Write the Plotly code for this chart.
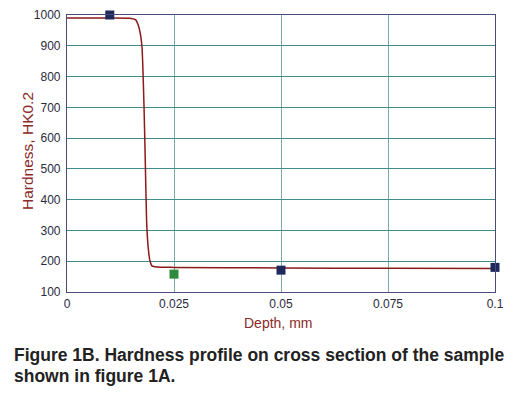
import plotly.graph_objects as go

# Curve
depth_curve = [0, 0.010, 0.0150, 0.0160, 0.0168, 0.0175, 0.0180, 0.0183, 0.0186,
               0.0190, 0.0194, 0.0199, 0.0210, 0.025, 0.050, 0.075, 0.100]
hard_curve = [990, 990, 989, 985, 960, 900, 700, 520, 330,
              240, 200, 184, 181, 180, 178, 177, 176]

# Measured points
blue_depth = [0.010, 0.050, 0.100]
blue_hard = [1000, 171, 180]
green_depth = [0.025]
green_hard = [158]

x_ticks = [0, 0.025, 0.05, 0.075, 0.1]
x_ticktext = ["0", "0.025", "0.05", "0.075", "0.1"]
y_ticks = [100, 200, 300, 400, 500, 600, 700, 800, 900, 1000]

caption_lines = ["Figure 1B. Hardness profile on cross section of the sample",
                 "shown in figure 1A."]

fig = go.Figure()
fig.add_trace(go.Scatter(x=depth_curve, y=hard_curve, mode="lines",
                         line=dict(color="#8B1A1A", width=1.5, shape="spline", smoothing=0.5),
                         hoverinfo="skip", cliponaxis=False))
fig.add_trace(go.Scatter(x=green_depth, y=green_hard, mode="markers",
                         marker=dict(symbol="square", size=9, color="#2E8B3E"),
                         cliponaxis=False))
fig.add_trace(go.Scatter(x=blue_depth, y=blue_hard, mode="markers",
                         marker=dict(symbol="square", size=9, color="#1F2A5C"),
                         cliponaxis=False))

# plot area: page y 15..292 (figure offset 8px by page margin)
plot_h = 292 - 15


def py(page_y):
    return (292 - page_y) / plot_h


annotations = [
    dict(text="Hardness, HK0.2", xref="paper", yref="paper", x=-0.0935, y=py(151),
         textangle=-90, showarrow=False, font=dict(size=15.5, color="#8B2A2A"),
         xanchor="center", yanchor="middle"),
    dict(text="Depth, mm", xref="paper", yref="paper", x=0.493, y=py(323),
         showarrow=False, font=dict(size=14, color="#8B2A2A"),
         xanchor="center", yanchor="middle"),
]
for i, line in enumerate(caption_lines):
    annotations.append(dict(text="<b>" + line + "</b>", xref="paper", yref="paper",
                            x=-0.129, y=py(355 + 21 * i), align="left",
                            showarrow=False, font=dict(size=17.5, color="#222222"),
                            xanchor="left", yanchor="middle"))

fig.update_layout(
    width=504, height=389,
    margin=dict(l=59, r=17, t=7, b=105),
    paper_bgcolor="white", plot_bgcolor="white",
    showlegend=False,
    font=dict(family="Liberation Sans, Arial, sans-serif", color="#2A2A40"),
    xaxis=dict(range=[0, 0.1], tickvals=x_ticks, ticktext=x_ticktext,
               showgrid=True, gridcolor="#7FA8A8", gridwidth=1,
               showline=True, linecolor="#4B4B7A", linewidth=1.2, mirror=True,
               ticks="", tickfont=dict(size=12, color="#2A2A40"), zeroline=False,
               ticklabeloverflow="allow", automargin=False),
    yaxis=dict(range=[100, 1000], tickvals=y_ticks,
               showgrid=True, gridcolor="#3F8C8C", gridwidth=1,
               showline=True, linecolor="#4B4B7A", linewidth=1.2, mirror="ticks",
               ticks="outside", ticklen=3, tickcolor="rgba(0,0,0,0)",
               tickfont=dict(size=12, color="#2A2A40"), zeroline=False,
               ticklabeloverflow="allow", automargin=False),
    annotations=annotations,
)

fig.write_html("out.html")
